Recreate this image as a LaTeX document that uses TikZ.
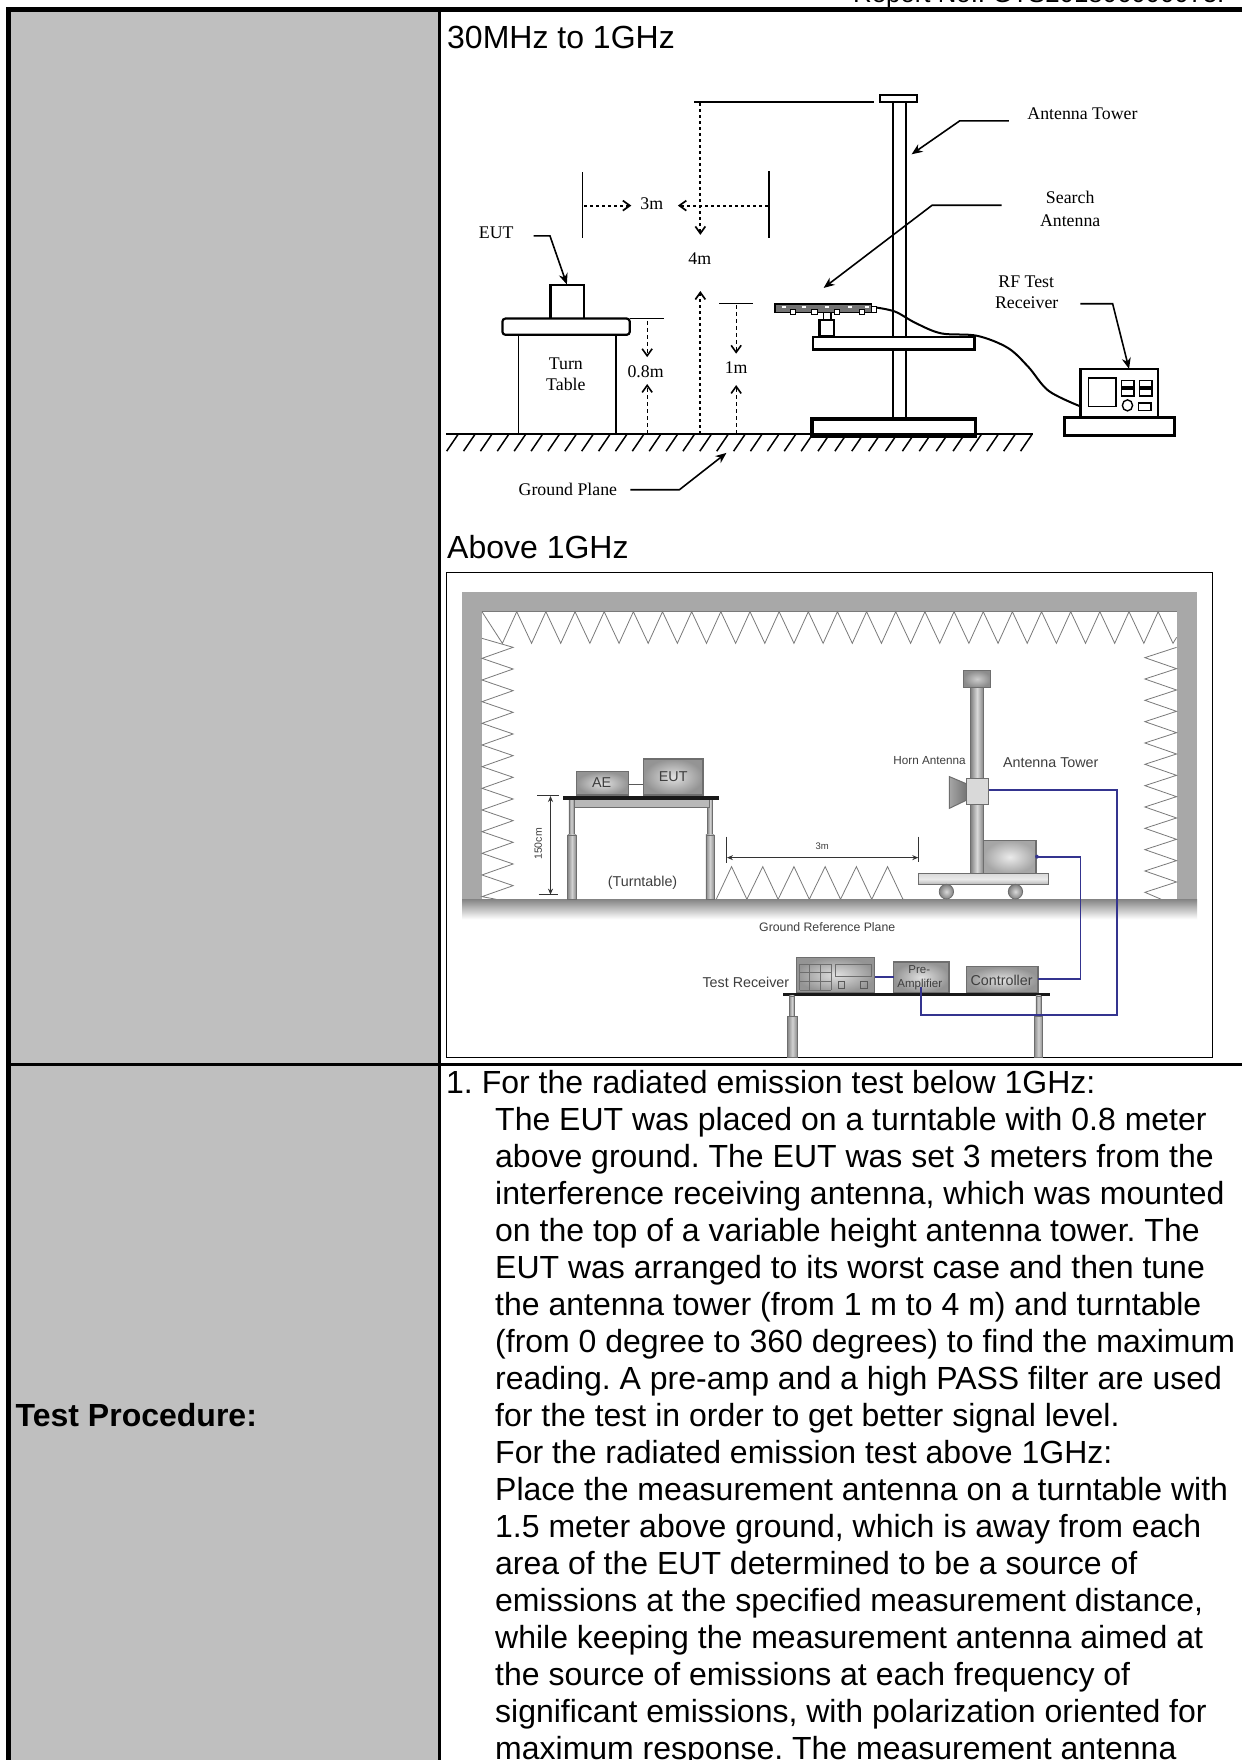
\documentclass[tikz,border=0pt]{standalone}
\usepackage{fontspec}
\setmainfont{Liberation Sans}
\newfontfamily\serifface{Liberation Serif}
\usetikzlibrary{arrows.meta}
\AtBeginDocument{\frenchspacing}
\definecolor{cellgrey}{HTML}{BFBFBF}
\definecolor{wallgrey}{HTML}{A8A8A8}
\definecolor{edgegrey}{HTML}{6E6E6E}
\definecolor{zigzag}{HTML}{7A7A7A}
\definecolor{cableblue}{HTML}{34348F}
\definecolor{softink}{HTML}{3E3E3E}
\tikzset{
  bodyline/.style={inner sep=0,anchor=base west,font=\fontsize{32}{37}\selectfont},
  schem/.style={inner sep=0,font=\fontsize{17.8}{20}\selectfont\serifface},
  photo/.style={inner sep=0,text=softink,font=\fontsize{14.3}{16}\selectfont},
  photosmall/.style={inner sep=0,text=softink,font=\fontsize{11.7}{13}\selectfont},
  leader/.style={line width=1.6pt,-{Stealth[length=11pt,width=9pt]}},
  dimdot/.style={line width=1.9pt,dash pattern=on 3pt off 3pt,-{Straight Barb[length=7pt,width=10pt,line width=1.7pt]}},
  dimdash/.style={line width=1pt,dash pattern=on 4pt off 3pt,-{Straight Barb[length=7pt,width=10pt,line width=1.6pt]}},
  thinline/.style={line width=1.2pt},
  boxline/.style={line width=2.2pt,fill=white},
  heavybox/.style={line width=3.4pt,fill=white},
  gbox/.style={draw=edgegrey,line width=1.2pt,inner color=black!12,outer color=black!42},
  leg/.style={draw=edgegrey,line width=.8pt,left color=black!45,right color=black!45,middle color=black!18},
  pole/.style={draw=edgegrey,line width=1.4pt,left color=black!50,right color=black!50,middle color=black!15},
  tabletop/.style={fill=black!90},
  teeth/.style={draw=zigzag,line width=.8pt},
  blueline/.style={draw=cableblue,line width=1.8pt},
  dimblack/.style={line width=1pt,draw=black!80,{Stealth[length=6pt,width=5pt]}-{Stealth[length=6pt,width=5pt]}}
}
\begin{document}
\begin{tikzpicture}[x=1pt,y=-1pt]
\clip (0,0) rectangle (1242,1760);
\fill[white] (0,0) rectangle (1242,1760);
% header
\node[inner sep=0,anchor=base west,font=\fontsize{25.8}{28}\selectfont] (header) at (853,3) {Report No.: GTS201806000075F};
% table
\fill[cellgrey] (11,12) rectangle (438,1760);
\fill[black] (6,7) rectangle (11,1760);
\fill[black] (6,7) rectangle (1242,12);
\fill[black] (438,12) rectangle (440.5,1760);
\fill[black] (11,1063) rectangle (1242,1065.5);
\node[bodyline,font=\fontsize{32}{37}\selectfont\bfseries] (tp) at (15.5,1426) {Test Procedure:};
\node[bodyline] (t30) at (447,49) {30MHz to 1GHz};
\node[bodyline] (tab) at (447,558) {Above 1GHz};
\node[bodyline] (l1) at (446,1093) {1. For the radiated emission test below 1GHz:};
\node[bodyline] (l2) at (495,1130) {The EUT was placed on a turntable with 0.8 meter};
\node[bodyline] (l3) at (495,1167) {above ground. The EUT was set 3 meters from the};
\node[bodyline] (l4) at (495,1204) {interference receiving antenna, which was mounted};
\node[bodyline] (l5) at (495,1241) {on the top of a variable height antenna tower. The};
\node[bodyline] (l6) at (495,1278) {EUT was arranged to its worst case and then tune};
\node[bodyline] (l7) at (495,1315) {the antenna tower (from 1 m to 4 m) and turntable};
\node[bodyline] (l8) at (495,1352) {(from 0 degree to 360 degrees) to find the maximum};
\node[bodyline] (l9) at (495,1389) {reading. A pre-amp and a high PASS filter are used};
\node[bodyline] (l10) at (495,1426) {for the test in order to get better signal level.};
\node[bodyline] (l11) at (495,1463) {For the radiated emission test above 1GHz:};
\node[bodyline] (l12) at (495,1500) {Place the measurement antenna on a turntable with};
\node[bodyline] (l13) at (495,1537) {1.5 meter above ground, which is away from each};
\node[bodyline] (l14) at (495,1574) {area of the EUT determined to be a source of};
\node[bodyline] (l15) at (495,1611) {emissions at the specified measurement distance,};
\node[bodyline] (l16) at (495,1648) {while keeping the measurement antenna aimed at};
\node[bodyline] (l17) at (495,1685) {the source of emissions at each frequency of};
\node[bodyline] (l18) at (495,1722) {significant emissions, with polarization oriented for};
\node[bodyline] (l19) at (495,1759) {maximum response. The measurement antenna};
% ---------- first schematic
\begin{scope}[shift={(440,0)},x=0.5115pt,y=-0.3444pt]
% tower
\draw[line width=2pt] (886,290) -- (886,1216) (911,290) -- (911,1216);
\draw[boxline] (860,276) rectangle (932,296);
\draw[line width=2pt] (497,296) -- (848,296);
\draw[heavybox] (727,1217) rectangle (1047,1267);
\draw[boxline] (729,978) rectangle (1045,1015);
% 4m
\draw[dimdot] (509,300) -- (509,682);
\draw[dimdot] (509,1260) -- (509,845);
\node[schem] (m4) at (508,750) {4m};
% 3m
\draw[line width=1.5pt] (279,500) -- (279,692) (643,497) -- (643,690);
\draw[dimdot] (282,597) -- (374,597);
\draw[dimdot] (641,597) -- (465,597);
\node[schem] (m3) at (414,592) {3m};
% EUT
\draw[boxline] (216,828) rectangle (281,926);
\node[schem] (eut) at (110,675) {EUT};
\draw[leader] (183,685) -- (215,685) -- (248,826);
% turn table
\draw[thinline] (153,972) -- (153,1260) (344,972) -- (344,1260);
\draw[boxline,rounded corners=3pt] (122,925) rectangle (371,972);
\draw[thinline] (371,924) -- (438,924);
\node[schem] (turn) at (246,1055) {Turn};
\node[schem] (table) at (246,1115) {Table};
% 0.8m
\draw[dimdash] (405,932) -- (405,1037);
\draw[dimdash] (405,1260) -- (405,1115);
\node[schem] (m08) at (402,1080) {0.8m};
% 1m
\draw[thinline] (546,882) -- (612,882);
\draw[dimdash] (579,885) -- (579,1027);
\draw[dimdash] (579,1260) -- (579,1118);
\node[schem] (m1) at (579,1067) {1m};
% ground
\draw[line width=2pt] (12,1260) -- (1160,1260);
\foreach \h in {0,...,34} \draw[line width=1.5pt] (35+33*\h,1262) -- ++(-22,48);
% search antenna
\draw[line width=1.4pt,fill=white] (750,908) rectangle (764,928);
\draw[boxline] (742,928) rectangle (770,975);
\draw[line width=1pt,fill=white] (840,891) rectangle (853,908);
\fill[black!55] (655,883) rectangle (843,908);
\draw[line width=1.4pt] (655,883) rectangle (843,908);
\foreach \n in {672,712,756,802,835} \fill[white] (\n-4,888) rectangle (\n+4,895);
\foreach \n in {690,732,776,824} \draw[line width=.8pt,fill=white] (\n-5,897) rectangle (\n+5,912);
\draw[line width=2pt] plot[smooth,tension=.55] coordinates {(853,893) (890,905) (930,938) (980,968) (1050,975) (1110,1010) (1150,1065) (1190,1135) (1252,1180)};
% receiver
\draw[boxline] (1252,1072) rectangle (1403,1212);
\draw[heavybox] (1221,1213) rectangle (1436,1265);
\draw[line width=1.6pt] (1268,1098) rectangle (1322,1180);
\foreach \cc in {1332,1367} {
  \draw[line width=1.4pt] (\cc,1105) rectangle (\cc+25,1150);
  \fill[black] (\cc,1122) rectangle (\cc+25,1131);
}
\draw[line width=1.4pt] (1344,1177) ellipse (10 and 16);
\draw[line width=1.4pt] (1366,1170) rectangle (1390,1192);
% leaders
\node[schem] (at) at (1256,330) {Antenna Tower};
\draw[leader] (1112,351) -- (1016,351) -- (922,448);
\node[schem] (sa1) at (1232,573) {Search};
\node[schem] (sa2) at (1232,640) {Antenna};
\draw[leader] (1098,596) -- (962,596) -- (750,836);
\node[schem] (rf1) at (1146,818) {RF Test};
\node[schem] (rf2) at (1147,880) {Receiver};
\draw[leader] (1252,882) -- (1315,882) -- (1347,1071);
\node[schem] (gp) at (250,1421) {Ground Plane};
\draw[leader] (372,1422) -- (468,1422) -- (560,1315);
\end{scope}
% ---------- second photo-like figure
\begin{scope}[shift={(440,560)},x=0.5115pt,y=-0.3333pt]
\draw[line width=1.4pt,fill=white] (13,38) rectangle (1510,1492);
\fill[wallgrey] (43,97) rectangle (1480,1018);
\fill[white] (82,155) rectangle (1440,1018);
\draw[teeth] (82,155) -- (1440,155);
\draw[teeth] (82,155) \foreach \k in {0,...,22} {-- (122+57*\k,250) -- (150+57*\k,155)} -- (1433,250) -- (1440,232);
\draw[teeth] (82,235) \foreach \k in {0,...,11} {-- (143,262+65*\k) -- (82,295+65*\k)} -- (110,1018);
\draw[teeth] (1440,262) \foreach \k in {0,...,10} {-- (1378,293+64*\k) -- (1440,326+64*\k)} -- (1378,997) -- (1410,1018);
\draw[teeth] (540,1018) \foreach \k in {0,...,5} {-- (570+61*\k,920) -- (600+61*\k,1018)} -- (908,1018);
\shade[top color=black!48,bottom color=white] (43,1018) rectangle (1480,1078);
% table 1
\draw[leg] (252,719) rectangle (262,825);
\draw[leg] (250,825) rectangle (266,1018);
\draw[leg] (523,719) rectangle (533,825);
\draw[leg] (520,825) rectangle (536,1018);
\draw[draw=edgegrey,line width=.8pt,fill=black!28] (262,719) rectangle (527,743);
\fill[tabletop] (241,707) rectangle (545,719);
\draw[line width=1pt,draw=black!65] (368,675) -- (398,675);
\path[gbox] (267,635) rectangle (368,705);
\path[gbox] (398,597) rectangle (514,705);
\node[photo] (ae) at (316,668) {AE};
\node[photo] (eut2) at (456,650) {EUT};
% 150cm
\draw[line width=1pt,draw=black!80] (190,707) -- (232,707) (193,1005) -- (230,1005);
\draw[dimblack] (216,708) -- (216,1004);
\node[photosmall,rotate=90,font=\fontsize{10.5}{12}\selectfont] (h150) at (192,852) {150cm};
\node[photo] (turntable) at (396,967) {(Turntable)};
% 3m
\draw[line width=1pt,draw=black!80] (560,830) -- (560,910) (936,830) -- (936,905);
\draw[dimblack] (561,893) -- (935,893);
\node[photosmall,font=\fontsize{9.5}{11}\selectfont] (d3) at (747,860) {3m};
% tower
\path[pole] (1037,382) rectangle (1063,940);
\path[gbox,inner color=black!20,outer color=black!45] (1024,332) rectangle (1076,382);
\path[gbox,inner color=black!8,outer color=black!35] (1063,842) rectangle (1165,940);
\path[draw=edgegrey,line width=1pt,top color=black!15,bottom color=black!30,middle color=black!8] (936,940) rectangle (1190,975);
\path[draw=edgegrey,line width=.8pt,inner color=black!15,outer color=black!50] (990,995) ellipse (14 and 22);
\path[draw=edgegrey,line width=.8pt,inner color=black!15,outer color=black!50] (1125,995) ellipse (14 and 22);
\path[draw=edgegrey,line width=1pt,left color=black!35,right color=black!55] (1030,672) -- (996,650) -- (996,745) -- (1030,720) -- cycle;
\path[draw=edgegrey,line width=1pt,fill=black!15] (1030,655) rectangle (1073,735);
% receiver group
\fill[tabletop] (670,1298) rectangle (1192,1308);
\draw[leg] (683,1308) rectangle (693,1370);
\draw[leg] (680,1370) rectangle (698,1492);
\draw[leg] (1165,1308) rectangle (1175,1370);
\draw[leg] (1162,1370) rectangle (1178,1492);
\path[gbox] (697,1192) rectangle (850,1298);
\foreach \ga in {703,723,744,765} \draw[draw=edgegrey,line width=.7pt] (\ga,1212) -- (\ga,1290);
\foreach \gb in {1212,1238,1264,1290} \draw[draw=edgegrey,line width=.7pt] (703,\gb) -- (765,\gb);
\draw[draw=edgegrey,line width=.8pt] (773,1213) rectangle (843,1250);
\draw[draw=black!65,line width=.8pt] (778,1265) rectangle (790,1285) (822,1265) rectangle (835,1285);
\path[gbox] (887,1206) rectangle (995,1298);
\path[gbox] (1029,1220) rectangle (1169,1298);
\node[photosmall,font=\fontsize{11.5}{13}\selectfont] (pre1) at (937,1228) {Pre-};
\node[photosmall,font=\fontsize{11.5}{13}\selectfont] (pre2) at (938,1275) {Amplifier};
\node[photo] (ctrl) at (1098,1260) {Controller};
% blue
\draw[blueline] (1073,690) -- (1323,690) -- (1323,1365) -- (940,1365) -- (940,1280);
\draw[blueline] (1165,890) -- (1252,890) -- (1252,1258) -- (1170,1258);
\draw[blueline] (850,1250) -- (887,1250);
\fill[cableblue] (1167,890) ellipse (3.5 and 6);
% labels
\node[photosmall] (horn) at (957,603) {Horn Antenna};
\node[photo] (at2) at (1194,608) {Antenna Tower};
\node[photosmall,font=\fontsize{12.3}{14}\selectfont] (grp) at (757,1102) {Ground Reference Plane};
\node[photo] (tr) at (598,1267) {Test Receiver};
\end{scope}
\end{tikzpicture}
\end{document}
